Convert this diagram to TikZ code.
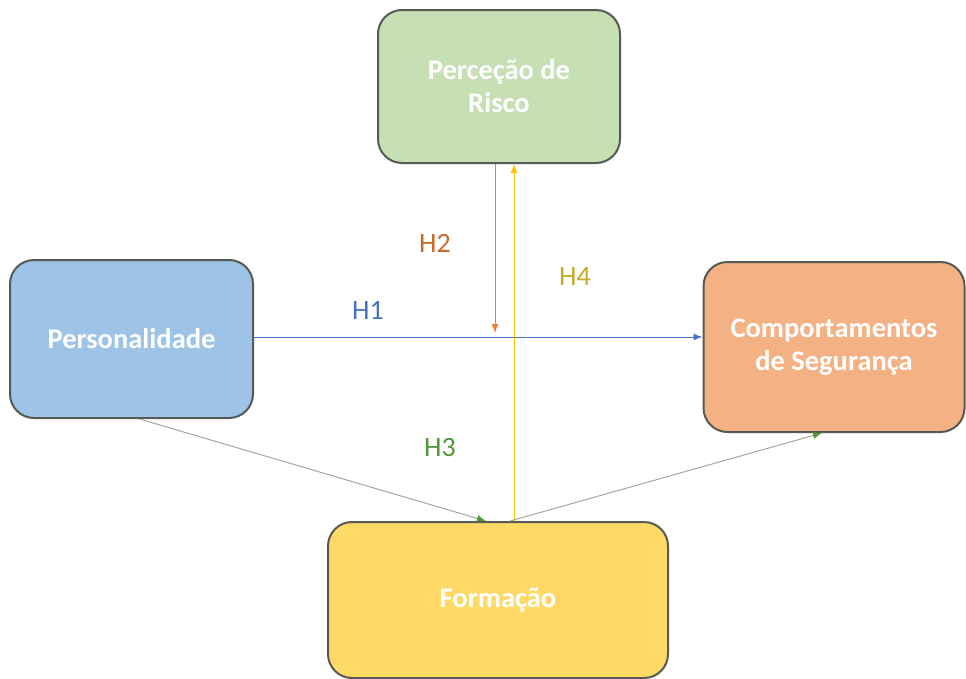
\documentclass[tikz,border=0pt]{standalone}
\usepackage{fontspec}
\setmainfont{Carlito}
\usepackage{xcolor}
\usepackage{tikz}
\usetikzlibrary{arrows.meta,calc}
\definecolor{boxgreen}{RGB}{198,224,180}
\definecolor{boxblue}{RGB}{157,195,230}
\definecolor{boxorange}{RGB}{244,177,131}
\definecolor{boxyellow}{RGB}{255,217,102}
\definecolor{boxline}{RGB}{85,90,85}
\definecolor{hblue}{RGB}{68,114,196}
\definecolor{horange}{RGB}{237,125,49}
\definecolor{hgold}{RGB}{255,192,0}
\definecolor{hgreen}{RGB}{84,150,60}
\definecolor{hgray}{RGB}{160,170,150}
\definecolor{lblgold}{RGB}{200,170,40}

\begin{document}
\begin{tikzpicture}[x=1pt,y=-1pt,font=\fontsize{28.5}{33}\selectfont\bfseries,
  box/.style={draw=boxline,line width=2pt,rounded corners=24pt,text=white,align=center},
  lbl/.style={font=\fontsize{28}{32}\selectfont},
  link/.style={line width=1pt,-{Latex[length=9pt,width=7pt]}}]
  \useasboundingbox (0,0) rectangle (966,678);
  % boxes
  \node[box,fill=boxgreen,minimum width=242pt,minimum height=153pt] (perc) at (499,86.5) {Perceção de\\ Risco};
  \node[box,fill=boxblue,minimum width=243pt,minimum height=158pt] (pers) at (131.5,339) {Personalidade};
  \node[box,fill=boxorange,minimum width=261pt,minimum height=170pt] (comp) at (834,347) {Comportamentos\\ de Segurança};
  \node[box,fill=boxyellow,minimum width=340pt,minimum height=156pt] (form) at (498,600) {Formação};
  % helper points
  \coordinate (h2end) at (495,333);
  \coordinate (h4x) at (514,0);
  \coordinate (h1y) at (0,337);
  % arrows
  \draw[link,hblue] (pers.east |- h1y) -- (comp.west |- h1y);
  \draw[link,horange] (perc.south -| h2end) -- (h2end);
  \draw[link,hgold] (form.north -| h4x) -- (perc.south -| h4x);
  \draw[link,hgray,-{Latex[length=9pt,width=7pt,color=hgreen]}] ($(pers.south)+(8,0)$) -- ($(form.north)+(-12,0)$);
  \draw[link,hgray,-{Latex[length=9pt,width=7pt,color=hgreen]}] ($(form.north)+(12,0)$) -- ($(comp.south)+(-12,0)$);
  % labels
  \node[lbl,text=hblue] (l1) at (368,310) {H1};
  \node[lbl,text=horange!85!black] (l2) at (435,243) {H2};
  \node[lbl,text=hgreen] (l3) at (440,448) {H3};
  \node[lbl,text=lblgold] (l4) at (575,277) {H4};
\end{tikzpicture}
\end{document}
